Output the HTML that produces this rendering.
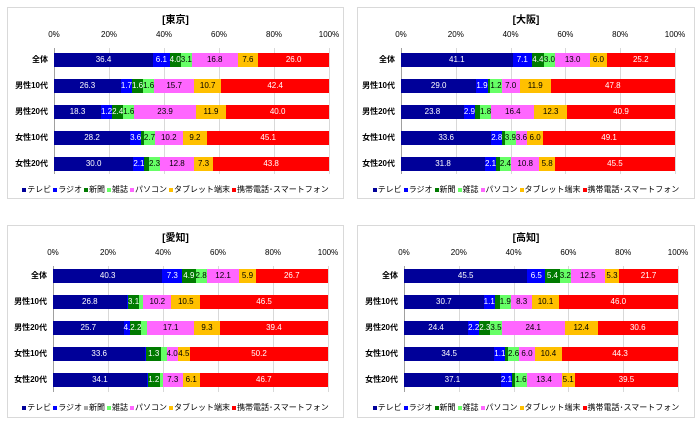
<!DOCTYPE html>
<html><head><meta charset="utf-8"><style>
body{margin:0;width:700px;height:425px;background:#fff;position:relative;overflow:hidden;font-family:"Liberation Sans","Noto Sans CJK JP",sans-serif;}
.p{position:absolute;width:337px;height:192px;border:1px solid #d9d9d9;box-sizing:border-box;background:#fff}
.t{position:absolute;top:3px;left:0;right:0;text-align:center;font-size:10px;font-weight:bold}
.pl{position:absolute;top:0;height:100%;width:275px}
.g{position:absolute;top:40px;height:126px;width:1px;background:#d9d9d9}
.g0{background:#a0a0a0}
.k{position:absolute;top:22px;font-size:8px;transform:translateX(-50%);color:#000}
.r{position:absolute;left:0;width:100%;height:14px;display:flex}
.r i{font-style:normal;font-size:8px;line-height:14px;text-align:center;white-space:nowrap;overflow:visible;display:flex;justify-content:center;color:#fff}
.c{position:absolute;right:100%;margin-right:6px;font-size:8px;font-weight:bold;line-height:14px;white-space:nowrap}
.a{background:#000099}.b{background:#0000ff}.n{background:#007a00}.m{background:#66ff66;color:#000!important}.pc{background:#ff66ff;color:#000!important}.tb{background:#ffc000;color:#000!important}.s{background:#ff0000}
.lg{position:absolute;top:176px;left:0;right:0;text-align:center;font-size:8px;white-space:nowrap}
.lg span{margin:0 1px}.lg b{display:inline-block;width:4px;height:4px;margin-right:1px;vertical-align:middle}
</style></head><body>

<div class="p" style="left:7px;top:7px">
<div class="t">[東京]</div>
<div class="pl" style="left:46px">
<div class="g g0" style="left:0"></div><div class="g" style="left:20%"></div><div class="g" style="left:40%"></div><div class="g" style="left:60%"></div><div class="g" style="left:80%"></div><div class="g" style="left:100%"></div>
<div class="k" style="left:0">0%</div><div class="k" style="left:20%">20%</div><div class="k" style="left:40%">40%</div><div class="k" style="left:60%">60%</div><div class="k" style="left:80%">80%</div><div class="k" style="left:100%">100%</div>
<div class="r" style="top:45px"><span class="c">全体</span><i class="a" style="flex:36.4">36.4</i><i class="b" style="flex:6.1">6.1</i><i class="n" style="flex:4.0">4.0</i><i class="m" style="flex:3.1">3.1</i><i class="pc" style="flex:16.8">16.8</i><i class="tb" style="flex:7.6">7.6</i><i class="s" style="flex:26.0">26.0</i></div>
<div class="r" style="top:71px"><span class="c">男性10代</span><i class="a" style="flex:26.3">26.3</i><i class="b" style="flex:1.7">1.7</i><i class="n" style="flex:1.6">1.6</i><i class="m" style="flex:1.6">1.6</i><i class="pc" style="flex:15.7">15.7</i><i class="tb" style="flex:10.7">10.7</i><i class="s" style="flex:42.4">42.4</i></div>
<div class="r" style="top:97px"><span class="c">男性20代</span><i class="a" style="flex:18.3">18.3</i><i class="b" style="flex:1.9">1.2</i><i class="n" style="flex:2.4">2.4</i><i class="m" style="flex:1.6">1.6</i><i class="pc" style="flex:23.9">23.9</i><i class="tb" style="flex:11.9">11.9</i><i class="s" style="flex:40.0">40.0</i></div>
<div class="r" style="top:123px"><span class="c">女性10代</span><i class="a" style="flex:28.2">28.2</i><i class="b" style="flex:3.6">3.6</i><i class="n" style="flex:1.0"></i><i class="m" style="flex:2.7">2.7</i><i class="pc" style="flex:10.2">10.2</i><i class="tb" style="flex:9.2">9.2</i><i class="s" style="flex:45.1">45.1</i></div>
<div class="r" style="top:149px"><span class="c">女性20代</span><i class="a" style="flex:30.0">30.0</i><i class="b" style="flex:2.1">2.1</i><i class="n" style="flex:1.7"></i><i class="m" style="flex:2.3">2.3</i><i class="pc" style="flex:12.8">12.8</i><i class="tb" style="flex:7.3">7.3</i><i class="s" style="flex:43.8">43.8</i></div>
</div>
<div class="lg"><span><b class="a"></b>テレビ</span><span><b class="b"></b>ラジオ</span><span><b class="n"></b>新聞</span><span><b class="m"></b>雑誌</span><span><b class="pc"></b>パソコン</span><span><b class="tb"></b>タブレット端末</span><span><b class="s"></b>携帯電話･スマートフォン</span></div>
</div>

<div class="p" style="left:357px;top:7px;width:338px">
<div class="t">[大阪]</div>
<div class="pl" style="left:43px;width:274px">
<div class="g g0" style="left:0"></div><div class="g" style="left:20%"></div><div class="g" style="left:40%"></div><div class="g" style="left:60%"></div><div class="g" style="left:80%"></div><div class="g" style="left:100%"></div>
<div class="k" style="left:0">0%</div><div class="k" style="left:20%">20%</div><div class="k" style="left:40%">40%</div><div class="k" style="left:60%">60%</div><div class="k" style="left:80%">80%</div><div class="k" style="left:100%">100%</div>
<div class="r" style="top:45px"><span class="c">全体</span><i class="a" style="flex:41.1">41.1</i><i class="b" style="flex:7.1">7.1</i><i class="n" style="flex:4.4">4.4</i><i class="m" style="flex:3.0">3.0</i><i class="pc" style="flex:13.0">13.0</i><i class="tb" style="flex:6.0">6.0</i><i class="s" style="flex:25.2">25.2</i></div>
<div class="r" style="top:71px"><span class="c">男性10代</span><i class="a" style="flex:29.0">29.0</i><i class="b" style="flex:2.0">1.9</i><i class="n" style="flex:1.1"></i><i class="m" style="flex:1.2">1.2</i><i class="pc" style="flex:7.0">7.0</i><i class="tb" style="flex:11.9">11.9</i><i class="s" style="flex:47.8">47.8</i></div>
<div class="r" style="top:97px"><span class="c">男性20代</span><i class="a" style="flex:23.8">23.8</i><i class="b" style="flex:2.9">2.9</i><i class="n" style="flex:1.9"></i><i class="m" style="flex:1.8">1.8</i><i class="pc" style="flex:16.4">16.4</i><i class="tb" style="flex:12.3">12.3</i><i class="s" style="flex:40.9">40.9</i></div>
<div class="r" style="top:123px"><span class="c">女性10代</span><i class="a" style="flex:33.6">33.6</i><i class="b" style="flex:2.9">2.8</i><i class="n" style="flex:0.9"></i><i class="m" style="flex:3.9">3.9</i><i class="pc" style="flex:3.6">3.6</i><i class="tb" style="flex:6.0">6.0</i><i class="s" style="flex:49.1">49.1</i></div>
<div class="r" style="top:149px"><span class="c">女性20代</span><i class="a" style="flex:31.8">31.8</i><i class="b" style="flex:2.3">2.1</i><i class="n" style="flex:1.4"></i><i class="m" style="flex:2.4">2.4</i><i class="pc" style="flex:10.8">10.8</i><i class="tb" style="flex:5.8">5.8</i><i class="s" style="flex:45.5">45.5</i></div>
</div>
<div class="lg"><span><b class="a"></b>テレビ</span><span><b class="b"></b>ラジオ</span><span><b class="n"></b>新聞</span><span><b class="m"></b>雑誌</span><span><b class="pc"></b>パソコン</span><span><b class="tb"></b>タブレット端末</span><span><b class="s"></b>携帯電話･スマートフォン</span></div>
</div>

<div class="p" style="left:7px;top:225px;height:193px">
<div class="t">[愛知]</div>
<div class="pl" style="left:45px">
<div class="g g0" style="left:0"></div><div class="g" style="left:20%"></div><div class="g" style="left:40%"></div><div class="g" style="left:60%"></div><div class="g" style="left:80%"></div><div class="g" style="left:100%"></div>
<div class="k" style="left:0">0%</div><div class="k" style="left:20%">20%</div><div class="k" style="left:40%">40%</div><div class="k" style="left:60%">60%</div><div class="k" style="left:80%">80%</div><div class="k" style="left:100%">100%</div>
<div class="r" style="top:43px"><span class="c">全体</span><i class="a" style="flex:40.3">40.3</i><i class="b" style="flex:7.3">7.3</i><i class="n" style="flex:4.9">4.9</i><i class="m" style="flex:2.8">2.8</i><i class="pc" style="flex:12.1">12.1</i><i class="tb" style="flex:5.9">5.9</i><i class="s" style="flex:26.7">26.7</i></div>
<div class="r" style="top:69px"><span class="c">男性10代</span><i class="a" style="flex:26.8">26.8</i><i class="b" style="flex:0.5"></i><i class="n" style="flex:4.0">3.1</i><i class="m" style="flex:1.5"></i><i class="pc" style="flex:10.2">10.2</i><i class="tb" style="flex:10.5">10.5</i><i class="s" style="flex:46.5">46.5</i></div>
<div class="r" style="top:95px"><span class="c">男性20代</span><i class="a" style="flex:25.7">25.7</i><i class="b" style="flex:2.4">4.</i><i class="n" style="flex:4.0">2.2</i><i class="m" style="flex:2.1"></i><i class="pc" style="flex:17.1">17.1</i><i class="tb" style="flex:9.3">9.3</i><i class="s" style="flex:39.4">39.4</i></div>
<div class="r" style="top:121px"><span class="c">女性10代</span><i class="a" style="flex:33.6">33.6</i><i class="b" style="flex:0.4"></i><i class="n" style="flex:5.3">1.3</i><i class="m" style="flex:2.0"></i><i class="pc" style="flex:4.0">4.0</i><i class="tb" style="flex:4.5">4.5</i><i class="s" style="flex:50.2">50.2</i></div>
<div class="r" style="top:147px"><span class="c">女性20代</span><i class="a" style="flex:34.1">34.1</i><i class="b" style="flex:0.3"></i><i class="n" style="flex:4.5">1.2</i><i class="m" style="flex:1.0"></i><i class="pc" style="flex:7.3">7.3</i><i class="tb" style="flex:6.1">6.1</i><i class="s" style="flex:46.7">46.7</i></div>
</div>
<div class="lg"><span><b class="a"></b>テレビ</span><span><b class="b"></b>ラジオ</span><span><b style="background:#a6a6a6"></b>新聞</span><span><b class="m"></b>雑誌</span><span><b class="pc"></b>パソコン</span><span><b class="tb"></b>タブレット端末</span><span><b class="s"></b>携帯電話･スマートフォン</span></div>
</div>

<div class="p" style="left:357px;top:225px;width:338px;height:193px">
<div class="t">[高知]</div>
<div class="pl" style="left:46px;width:274px">
<div class="g g0" style="left:0"></div><div class="g" style="left:20%"></div><div class="g" style="left:40%"></div><div class="g" style="left:60%"></div><div class="g" style="left:80%"></div><div class="g" style="left:100%"></div>
<div class="k" style="left:0">0%</div><div class="k" style="left:20%">20%</div><div class="k" style="left:40%">40%</div><div class="k" style="left:60%">60%</div><div class="k" style="left:80%">80%</div><div class="k" style="left:100%">100%</div>
<div class="r" style="top:43px"><span class="c">全体</span><i class="a" style="flex:45.5">45.5</i><i class="b" style="flex:6.5">6.5</i><i class="n" style="flex:5.4">5.4</i><i class="m" style="flex:3.2">3.2</i><i class="pc" style="flex:12.5">12.5</i><i class="tb" style="flex:5.3">5.3</i><i class="s" style="flex:21.7">21.7</i></div>
<div class="r" style="top:69px"><span class="c">男性10代</span><i class="a" style="flex:30.7">30.7</i><i class="b" style="flex:1.1">1.1</i><i class="n" style="flex:1.9"></i><i class="m" style="flex:1.9">1.9</i><i class="pc" style="flex:8.3">8.3</i><i class="tb" style="flex:10.1">10.1</i><i class="s" style="flex:46.0">46.0</i></div>
<div class="r" style="top:95px"><span class="c">男性20代</span><i class="a" style="flex:24.4">24.4</i><i class="b" style="flex:2.2">2.2</i><i class="n" style="flex:2.3">2.3</i><i class="m" style="flex:3.5">3.5</i><i class="pc" style="flex:24.1">24.1</i><i class="tb" style="flex:12.4">12.4</i><i class="s" style="flex:30.6">30.6</i></div>
<div class="r" style="top:121px"><span class="c">女性10代</span><i class="a" style="flex:34.5">34.5</i><i class="b" style="flex:1.2">1.1</i><i class="n" style="flex:1.0"></i><i class="m" style="flex:2.6">2.6</i><i class="pc" style="flex:6.0">6.0</i><i class="tb" style="flex:10.4">10.4</i><i class="s" style="flex:44.3">44.3</i></div>
<div class="r" style="top:147px"><span class="c">女性20代</span><i class="a" style="flex:37.1">37.1</i><i class="b" style="flex:2.1">2.1</i><i class="n" style="flex:1.3"></i><i class="m" style="flex:1.5">1.6</i><i class="pc" style="flex:13.4">13.4</i><i class="tb" style="flex:5.1">5.1</i><i class="s" style="flex:39.5">39.5</i></div>
</div>
<div class="lg"><span><b class="a"></b>テレビ</span><span><b class="b"></b>ラジオ</span><span><b class="n"></b>新聞</span><span><b class="m"></b>雑誌</span><span><b class="pc"></b>パソコン</span><span><b class="tb"></b>タブレット端末</span><span><b class="s"></b>携帯電話･スマートフォン</span></div>
</div>
</body></html>
